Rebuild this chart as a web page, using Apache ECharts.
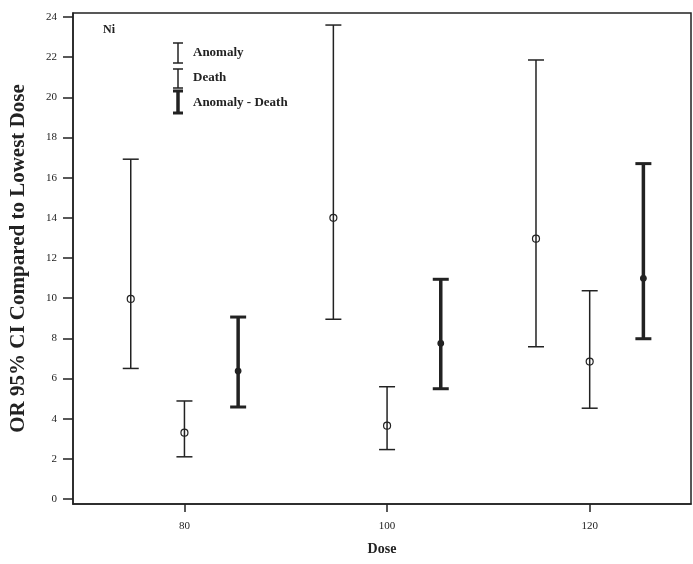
<!DOCTYPE html>
<html>
<head>
<meta charset="utf-8">
<script src="https://cdn.jsdelivr.net/npm/echarts@6/dist/echarts.min.js"></script>
<style>
  html, body { margin: 0; padding: 0; background: #fff; }
  #chart { width: 693px; height: 564px; }
</style>
</head>
<body>
<div id="chart"></div>
<script>
// dose groups on x axis
var doses = [80, 100, 120];
var xTicks = [80, 100, 120];
var yTicks = [0, 2, 4, 6, 8, 10, 12, 14, 16, 18, 20, 22, 24];

// OR and 95% CI
var anomalyOR   = [9.96, 14.0, 12.96];
var anomalyLow  = [6.5, 8.95, 7.58];
var anomalyHigh = [16.92, 23.6, 21.86];

var deathOR   = [3.3, 3.65, 6.84];
var deathLow  = [2.1, 2.46, 4.52];
var deathHigh = [4.88, 5.59, 10.37];

var bothOR   = [6.37, 7.75, 10.99];
var bothLow  = [4.58, 5.49, 7.98];
var bothHigh = [9.06, 10.94, 16.7];

var FONT = '"Liberation Serif", "DejaVu Serif", serif';
var INK = '#222';
var dodge = 5.3; // side-by-side spacing of the three bars in a dose group

function rows(shift, mid, lo, hi) {
  return doses.map(function (d, i) {
    return [d + shift, mid[i], lo[i], hi[i]];
  });
}

function errorBar(thick) {
  return function (params, api) {
    var x = api.value(0);
    var mid = api.coord([x, api.value(1)]);
    var lo = api.coord([x, api.value(2)]);
    var hi = api.coord([x, api.value(3)]);
    var lw = thick ? 3.5 : 1.5;
    var cw = thick ? 3 : 1.5;
    var half = 8;
    var st = { stroke: INK, lineWidth: lw };
    var cap = { stroke: INK, lineWidth: cw };
    return {
      type: 'group',
      children: [
        { type: 'line', shape: { x1: mid[0], y1: hi[1], x2: mid[0], y2: lo[1] }, style: st },
        { type: 'line', shape: { x1: mid[0] - half, y1: hi[1], x2: mid[0] + half, y2: hi[1] }, style: cap },
        { type: 'line', shape: { x1: mid[0] - half, y1: lo[1], x2: mid[0] + half, y2: lo[1] }, style: cap },
        { type: 'circle', shape: { cx: mid[0], cy: mid[1], r: thick ? 2.8 : 3.5 },
          style: { fill: thick ? INK : 'none', stroke: INK, lineWidth: 1.2 } }
      ]
    };
  };
}

// legend glyph: an I-beam drawn with lines
function legendBar(x, y1, y2, thick) {
  var lw = thick ? 3.5 : 1.5;
  var cw = thick ? 3 : 1.5;
  return [
    { type: 'line', shape: { x1: x, y1: y1, x2: x, y2: y2 }, style: { stroke: INK, lineWidth: lw } },
    { type: 'line', shape: { x1: x - 5, y1: y1, x2: x + 5, y2: y1 }, style: { stroke: INK, lineWidth: cw } },
    { type: 'line', shape: { x1: x - 5, y1: y2, x2: x + 5, y2: y2 }, style: { stroke: INK, lineWidth: cw } }
  ];
}

var chart = echarts.init(document.getElementById('chart'));

var option = {
  backgroundColor: '#fff',
  animation: false,
  grid: {
    left: 70, right: 2, top: 13, bottom: 60,
    show: true, borderColor: INK, borderWidth: 1.5, backgroundColor: 'transparent'
  },
  xAxis: {
    type: 'value',
    min: 69, max: 130,
    name: 'Dose',
    nameLocation: 'middle',
    nameGap: 38,
    nameTextStyle: { fontFamily: FONT, fontWeight: 'bold', fontSize: 14, color: INK },
    axisLine: { show: true, onZero: false, lineStyle: { color: INK, width: 1.5 } },
    axisTick: { show: true, length: 8, customValues: xTicks, lineStyle: { color: INK, width: 1.5 } },
    axisLabel: { customValues: xTicks, margin: 17, fontFamily: FONT, fontSize: 11, color: INK },
    splitLine: { show: false }
  },
  yAxis: {
    type: 'value',
    min: -0.25, max: 24.2,
    name: 'OR 95% CI Compared to Lowest Dose',
    nameLocation: 'middle',
    nameGap: 44,
    nameTextStyle: { fontFamily: FONT, fontWeight: 'bold', fontSize: 21, color: INK },
    axisLine: { show: true, onZero: false, lineStyle: { color: INK, width: 1.5 } },
    axisTick: { show: true, length: 10, customValues: yTicks, lineStyle: { color: INK, width: 1.5 } },
    axisLabel: { customValues: yTicks, margin: 16, fontFamily: FONT, fontSize: 11, color: INK },
    splitLine: { show: false }
  },
  graphic: [
    { type: 'text', left: 103, top: 24, style: { text: 'Ni', font: 'bold 12px ' + FONT, fill: INK } },
    { type: 'group', children: legendBar(178, 43, 63, false) },
    { type: 'group', children: legendBar(178, 69, 88, false) },
    { type: 'group', children: legendBar(178, 91, 113, true) },
    { type: 'text', left: 193, top: 46, style: { text: 'Anomaly', font: 'bold 13px ' + FONT, fill: INK } },
    { type: 'text', left: 193, top: 71, style: { text: 'Death', font: 'bold 13px ' + FONT, fill: INK } },
    { type: 'text', left: 193, top: 96, style: { text: 'Anomaly - Death', font: 'bold 13px ' + FONT, fill: INK } }
  ],
  series: [
    { name: 'Anomaly', type: 'custom', renderItem: errorBar(false),
      encode: { x: 0, y: [1, 2, 3] }, data: rows(-dodge, anomalyOR, anomalyLow, anomalyHigh) },
    { name: 'Death', type: 'custom', renderItem: errorBar(false),
      encode: { x: 0, y: [1, 2, 3] }, data: rows(0, deathOR, deathLow, deathHigh) },
    { name: 'Anomaly - Death', type: 'custom', renderItem: errorBar(true),
      encode: { x: 0, y: [1, 2, 3] }, data: rows(dodge, bothOR, bothLow, bothHigh) }
  ]
};

chart.setOption(option);
</script>
</body>
</html>
